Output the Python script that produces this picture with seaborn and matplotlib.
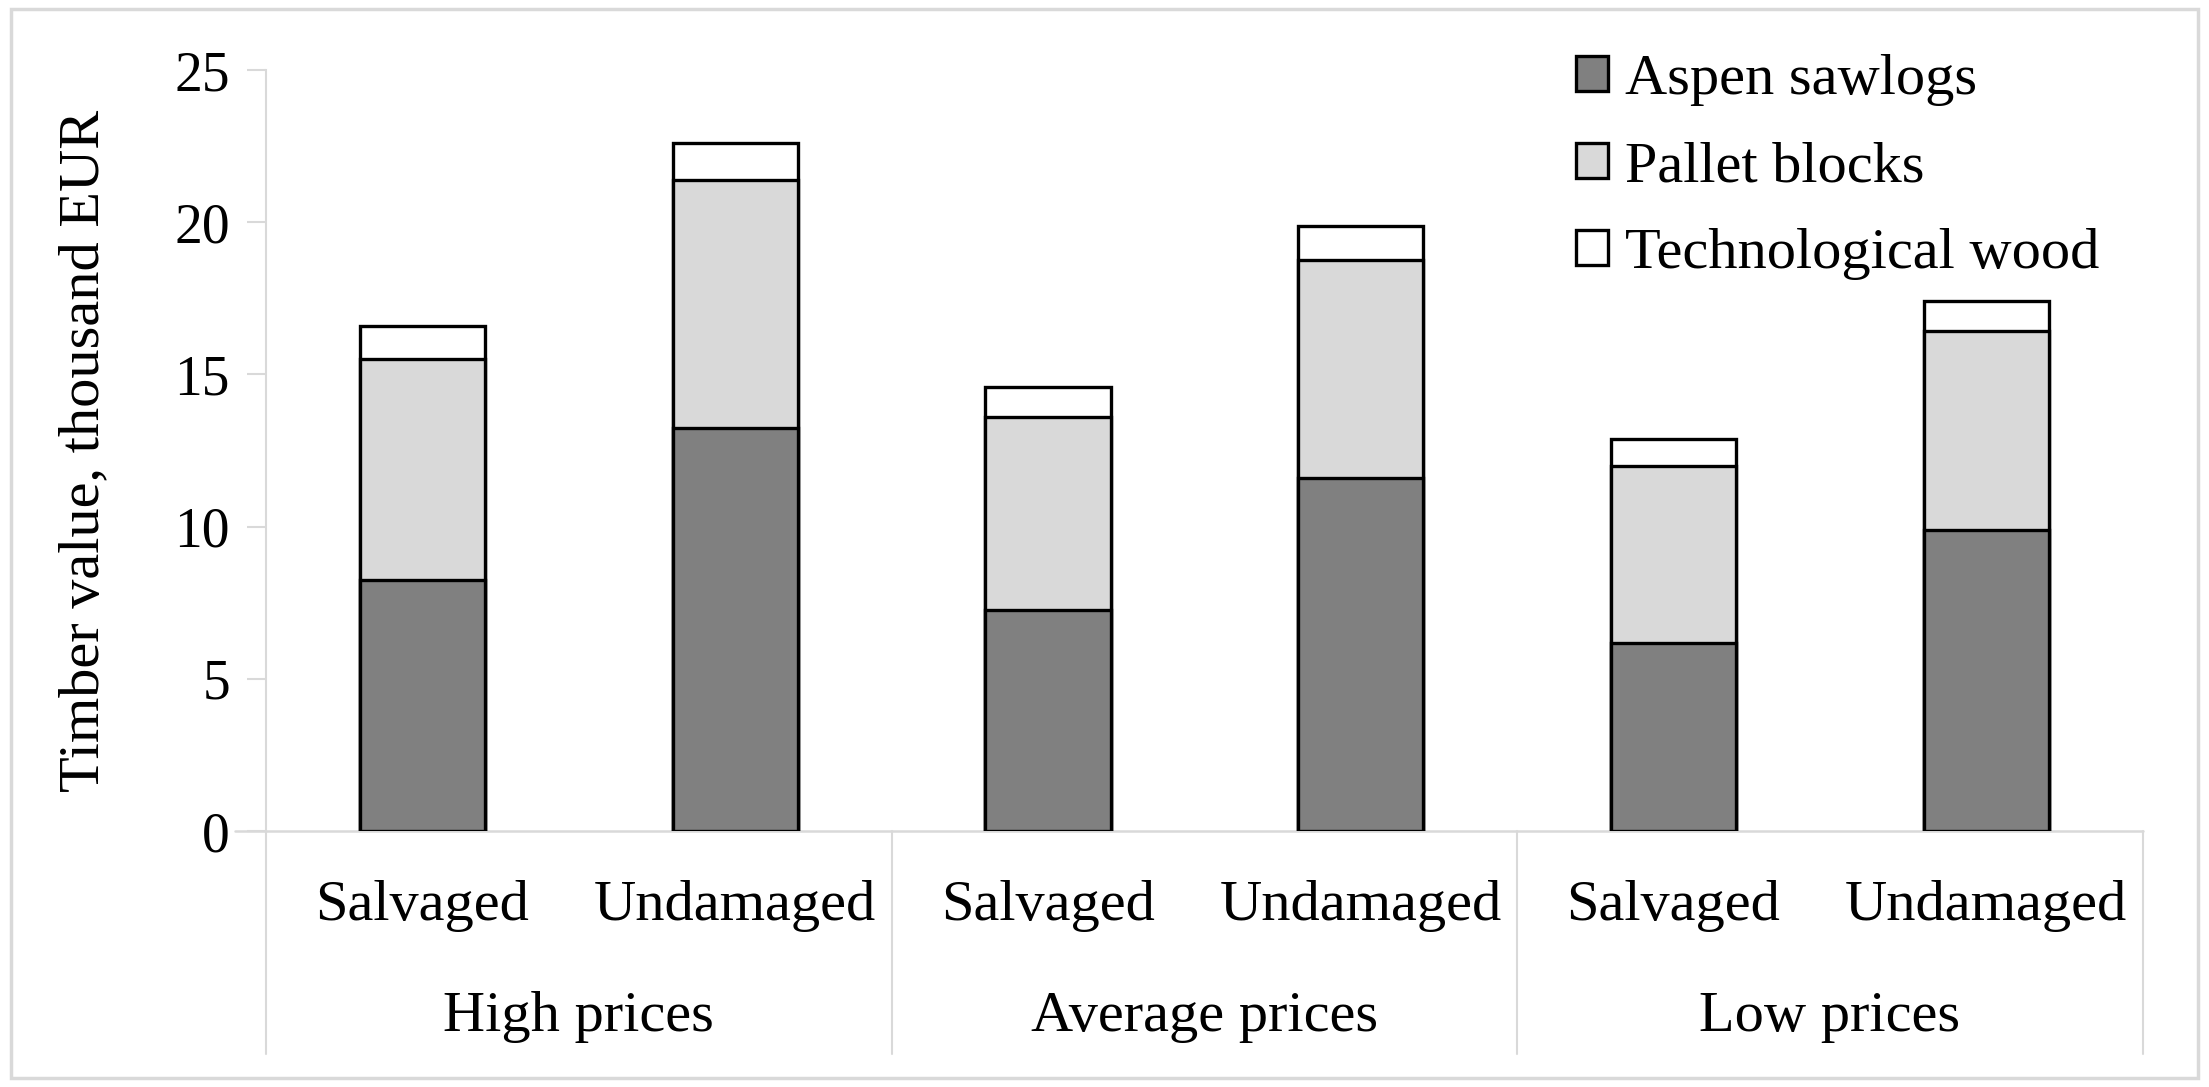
import matplotlib
matplotlib.use("Agg")
import matplotlib.pyplot as plt
from matplotlib.patches import Patch, Rectangle
import seaborn as sns

# values (thousand EUR)
groups = ["High prices", "Average prices", "Low prices"]
conditions = ["Salvaged", "Undamaged"]
aspen = [8.24, 13.24, 7.27, 11.6, 6.16, 9.9]
pallet = [7.26, 8.16, 6.33, 7.15, 5.83, 6.53]
tech = [1.1, 1.2, 0.98, 1.11, 0.88, 0.97]

keys = [g + " " + c for g in groups for c in conditions]
sub_labels = conditions * len(groups)

lvl1 = aspen
lvl2 = [a + p for a, p in zip(aspen, pallet)]
lvl3 = [a + p + t for a, p, t in zip(aspen, pallet, tech)]

sns.set_style("white")
plt.rcParams['font.family'] = ['Liberation Serif', 'DejaVu Serif']
plt.rcParams['text.color'] = 'black'
plt.rcParams['axes.labelcolor'] = 'black'
plt.rcParams['ytick.labelcolor'] = 'black'

fig = plt.figure(figsize=(22.09, 10.87), dpi=100)
ax = fig.add_axes([0.1204, 0.2355, 0.8496, 0.7001])

fs = 42
edge = dict(edgecolor="black", linewidth=2.4, width=0.4)
# stacked: draw totals first, then overlay lower stacks
sns.barplot(x=keys, y=lvl3, color="white", ax=ax, **edge)
sns.barplot(x=keys, y=lvl2, color="#d9d9d9", ax=ax, **edge)
sns.barplot(x=keys, y=lvl1, color="#808080", ax=ax, **edge)
for p in ax.patches:
    p.set_facecolor(p.get_facecolor()[:3] + (1.0,))

ax.set_ylim(0, 25)
ax.set_xlim(-0.5, 5.5)
ax.set_yticks([0, 5, 10, 15, 20, 25])
ax.tick_params(axis="y", labelsize=40, length=14, width=1.5, color="#d9d9d9",
               labelcolor="black", left=True, pad=12)
ax.set_ylabel("Timber value, thousand EUR", fontsize=fs, labelpad=46, color="black")

# x axis: hide default labels, draw two-level labels
ax.set_xticks([])
ax.set_xlabel("")
for s in ["top", "right"]:
    ax.spines[s].set_visible(False)
ax.spines["left"].set_color("#d9d9d9")
ax.spines["left"].set_linewidth(1.5)
ax.spines["bottom"].set_visible(False)

trans = ax.get_xaxis_transform()
ax.plot([-0.5 - 0.1, 5.5], [0, 0], color="#d9d9d9", lw=1.8, transform=trans,
        clip_on=False, zorder=0)
for xb in [-0.5, 1.5, 3.5, 5.5]:
    ax.plot([xb, xb], [0, -0.293], color="#d9d9d9", lw=1.5, transform=trans,
            clip_on=False)
for i, lab in enumerate(sub_labels):
    ax.text(i, -0.0986, lab, transform=trans, ha="center", va="center",
            fontsize=fs, color="black")
for j, g in enumerate(groups):
    ax.text(2 * j + 0.5, -0.245, g, transform=trans, ha="center", va="center",
            fontsize=fs, color="black")

handles = [Patch(facecolor="#808080", edgecolor="black", linewidth=2.4),
           Patch(facecolor="#d9d9d9", edgecolor="black", linewidth=2.4),
           Patch(facecolor="white", edgecolor="black", linewidth=2.4)]
ax.legend(handles, ["Aspen sawlogs", "Pallet blocks", "Technological wood"],
          loc="upper left", bbox_to_anchor=(0.67, 1.09), frameon=False,
          fontsize=fs, handlelength=0.55, handleheight=0.55, handletextpad=0.3,
          labelspacing=0.6, labelcolor="black")

fig.patches.append(Rectangle((0.005, 0.008), 0.99, 0.984, transform=fig.transFigure,
                             fill=False, edgecolor="#d9d9d9", linewidth=2.5))

fig.savefig("out.png", dpi=100)
